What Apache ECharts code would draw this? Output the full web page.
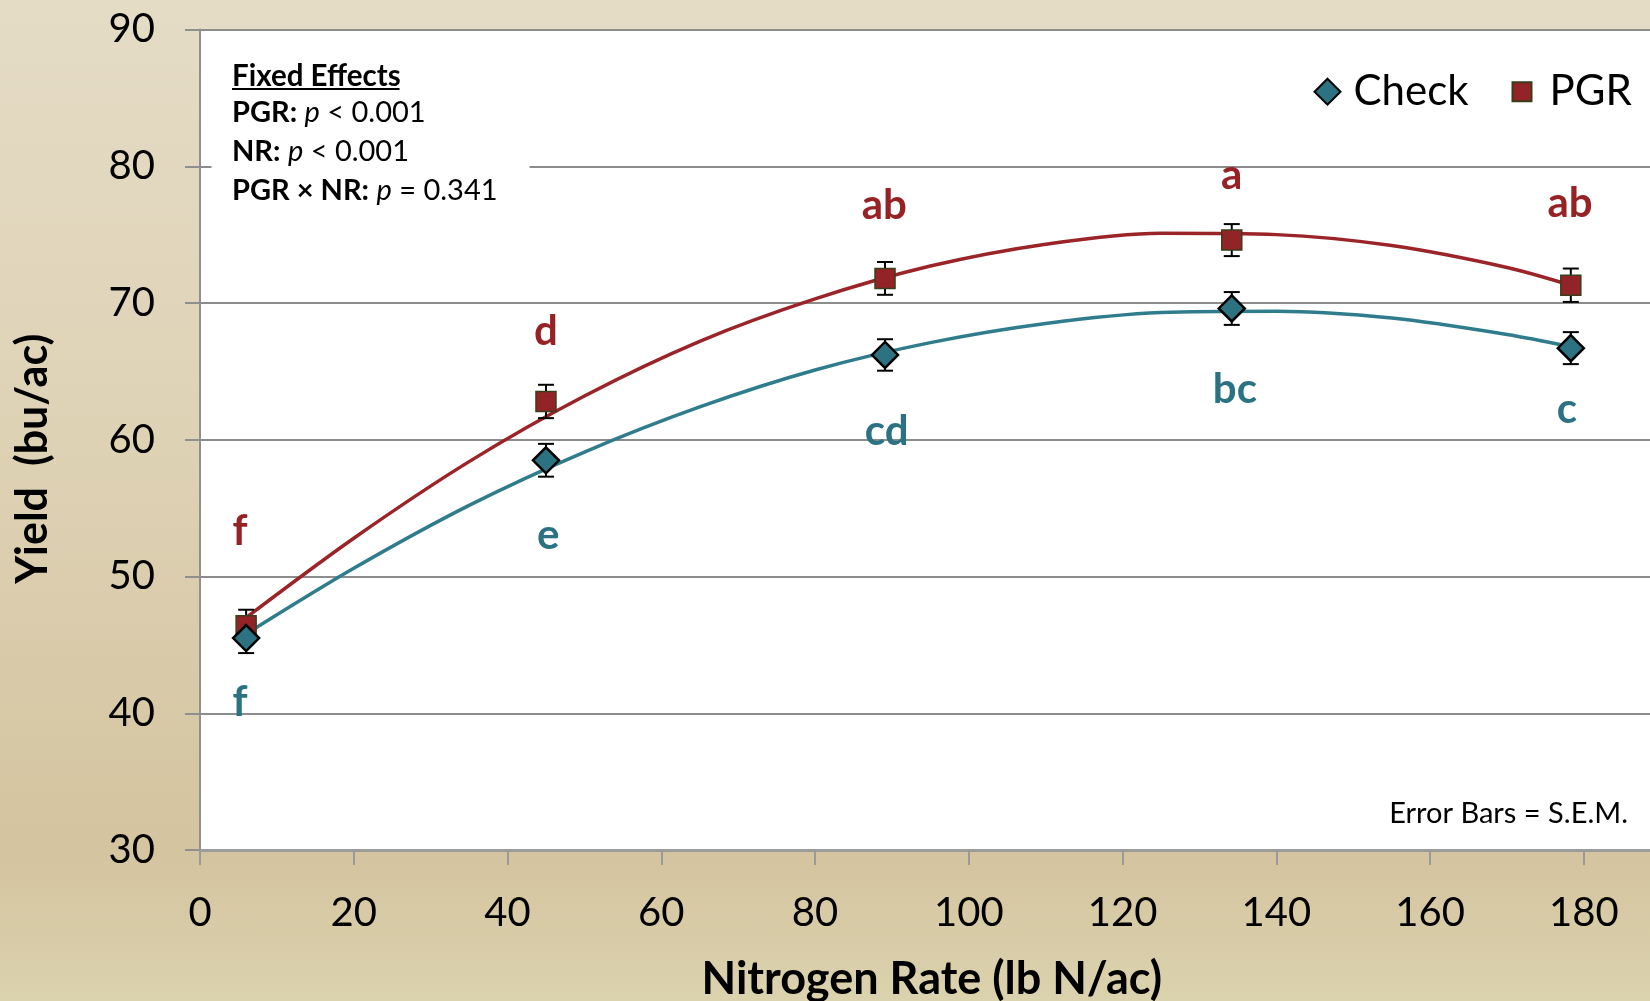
<!DOCTYPE html>
<html>
<head>
<meta charset="utf-8">
<script src="https://cdn.jsdelivr.net/npm/echarts@6/dist/echarts.min.js"></script>
<style>
html,body{margin:0;padding:0;width:1650px;height:1001px;overflow:hidden;
background:linear-gradient(to bottom,#e5dcc6 0%,#ded2b5 45%,#d4c49f 85%,#dbd2ae 100%);}
#chart{width:1650px;height:1001px;}
</style>
</head>
<body>
<div id="chart"></div>
<script>
// ---- data ----
const nRate = [6.0, 45.0, 89.1, 134.2, 178.3];          // lb N/ac
const checkYield = [45.5, 58.5, 66.2, 69.6, 66.7];       // bu/ac
const pgrYield   = [46.4, 62.8, 71.8, 74.6, 71.3];
const checkSEM = [1.1, 1.2, 1.15, 1.2, 1.17];
const pgrSEM   = [1.17, 1.22, 1.2, 1.17, 1.22];
const checkLetters = ['f', 'e', 'cd', 'bc', 'c'];
const pgrLetters   = ['f', 'd', 'ab', 'a', 'ab'];
const checkLetterX = [5.2, 45.3, 89.3, 134.6, 177.8];
const checkLetterY = [40.8, 53.0, 60.6, 63.7, 62.2];
const pgrLetterX   = [5.2, 45.0, 89.0, 134.2, 178.2];
const pgrLetterY   = [53.3, 67.9, 77.1, 79.3, 77.3];
// fitted trend curves
const checkCurveX = [6.0, 20, 35, 50, 65, 80, 95, 110, 125, 140, 155, 170, 178.3];
const checkCurveY = [45.8, 50.6, 55.2, 59.1, 62.4, 65.1, 67.1, 68.5, 69.3, 69.4, 68.9, 67.7, 66.8];
const pgrCurveX = [6.0, 20, 35, 50, 65, 80, 95, 110, 125, 140, 155, 170, 178.3];
const pgrCurveY = [47.0, 52.8, 58.4, 63.2, 67.2, 70.3, 72.7, 74.3, 75.1, 75.0, 74.2, 72.6, 71.3];
const xTicks = [0, 20, 40, 60, 80, 100, 120, 140, 160, 180];
const yTicks = [30, 40, 50, 60, 70, 80, 90];

const RED = '#9a2428', RED_FILL = '#922326', RED_TXT = '#962226';
const TEAL = '#2f7d8c', TEAL_FILL = '#2c7281', TEAL_TXT = '#2b7283';
const FONT = 'Lato';

const chart = echarts.init(document.getElementById('chart'));

function errSeries(name, ys, es) {
  return {
    type: 'custom', name: name, z: 3,
    data: nRate.map((x, i) => [x, ys[i], es[i]]),
    encode: {x: 0, y: 1},
    silent: true,
    renderItem: function (params, api) {
      const x = api.value(0), y = api.value(1), e = api.value(2);
      const t = api.coord([x, y + e]), b = api.coord([x, y - e]);
      const w = 8;
      const st = {stroke: '#000', lineWidth: 2};
      return {type: 'group', children: [
        {type: 'line', shape: {x1: t[0], y1: t[1], x2: b[0], y2: b[1]}, style: st},
        {type: 'line', shape: {x1: t[0] - w, y1: t[1], x2: t[0] + w, y2: t[1]}, style: st},
        {type: 'line', shape: {x1: b[0] - w, y1: b[1], x2: b[0] + w, y2: b[1]}, style: st}
      ]};
    }
  };
}
function letterSeries(letters, xs, ys, color) {
  return {
    type: 'scatter', z: 6, silent: true, symbolSize: 1,
    itemStyle: {color: 'rgba(0,0,0,0)', opacity: 1},
    data: xs.map((x, i) => [x, ys[i]]),
    label: {show: true, position: 'inside', formatter: p => letters[p.dataIndex], opacity: 1,
      color: color, fontFamily: FONT, fontWeight: 'bold', fontSize: 42, lineHeight: 42}
  };
}

const legendText = {fontFamily: FONT, fontSize: 42, lineHeight: 42, color: '#000'};
const option = {
  animation: false,
  backgroundColor: 'transparent',
  grid: {left: 200, right: 0, top: 29.5, bottom: 151, show: true, backgroundColor: '#fff', borderWidth: 0,
         containLabel: false, outerBoundsMode: 'none'},
  legend: [
    {data: ['Check'], left: 1313.5, top: 70.7, padding: 0, itemWidth: 26, itemHeight: 26, selectedMode: false,
     textStyle: Object.assign({padding: [0, 0, 0, 8]}, legendText)},
    {data: ['PGR'], left: 1511.5, top: 70.7, padding: 0, itemWidth: 19, itemHeight: 19, selectedMode: false,
     textStyle: Object.assign({padding: [0, 0, 0, 13]}, legendText)}
  ],
  xAxis: {
    type: 'value', min: 0, max: 188.6, interval: 20,
    axisLine: {show: true, lineStyle: {color: '#9c9c9c', width: 3}},
    axisTick: {show: true, length: 15, lineStyle: {color: '#9a9a9a', width: 2}, customValues: xTicks},
    axisLabel: {fontFamily: FONT, fontSize: 40, lineHeight: 40, color: '#000', margin: 43, customValues: xTicks},
    splitLine: {show: false}
  },
  yAxis: {
    type: 'value', min: 30, max: 90, interval: 10,
    axisLine: {show: true, lineStyle: {color: '#8f8f8f', width: 2}},
    axisTick: {show: true, length: 15, lineStyle: {color: '#8f8f8f', width: 2}},
    axisLabel: {fontFamily: FONT, fontSize: 40, lineHeight: 40, color: '#000', margin: 45, customValues: yTicks},
    splitLine: {show: true, lineStyle: {color: '#8c8c8c', width: 2}}
  },
  series: [
    {type: 'line', name: 'Check fit', z: 2, silent: true, showSymbol: false, smooth: 0.3,
     data: checkCurveX.map((x, i) => [x, checkCurveY[i]]), lineStyle: {color: TEAL, width: 3.5}},
    {type: 'line', name: 'PGR fit', z: 2, silent: true, showSymbol: false, smooth: 0.3,
     data: pgrCurveX.map((x, i) => [x, pgrCurveY[i]]), lineStyle: {color: RED, width: 3.5}},
    errSeries('Check SEM', checkYield, checkSEM),
    errSeries('PGR SEM', pgrYield, pgrSEM),
    {type: 'scatter', name: 'PGR', z: 4, symbol: 'rect', symbolSize: 20,
     data: nRate.map((x, i) => [x, pgrYield[i]]),
     itemStyle: {color: RED_FILL, borderColor: '#3b3d1b', borderWidth: 1.5, opacity: 1}},
    {type: 'scatter', name: 'Check', z: 5, symbol: 'diamond', symbolSize: 26,
     data: nRate.map((x, i) => [x, checkYield[i]]),
     itemStyle: {color: TEAL_FILL, borderColor: '#000', borderWidth: 2.5, opacity: 1}},
    letterSeries(pgrLetters, pgrLetterX, pgrLetterY, RED_TXT),
    letterSeries(checkLetters, checkLetterX, checkLetterY, TEAL_TXT)
  ],
  graphic: [
    {type: 'text', z: 60, x: 33, y: 458.8, rotation: Math.PI / 2,
     style: {text: 'Yield  (bu/ac)', fontFamily: FONT, fontWeight: 'bold', fontSize: 43, fill: '#000', align: 'center', verticalAlign: 'middle'}},
    {type: 'text', z: 60, x: 931.8, y: 979,
     style: {text: 'Nitrogen Rate (lb N/ac)', fontFamily: FONT, fontWeight: 'bold', fontSize: 45, fill: '#000', align: 'center', verticalAlign: 'middle'}},
    {type: 'rect', z: 50, shape: {x: 211.5, y: 45, width: 318, height: 168}, style: {fill: '#fff'}},
    {type: 'text', z: 51, x: 232, y: 76.5, style: {text: 'Fixed Effects', fontFamily: FONT, fontWeight: 'bold', fontSize: 29.5, fill: '#000', verticalAlign: 'middle'}},
    {type: 'line', z: 51, shape: {x1: 232, y1: 89, x2: 399.5, y2: 89}, style: {stroke: '#000', lineWidth: 2}},
    {type: 'text', z: 51, x: 232, y: 113, style: {text: '{b|PGR:} {i|p} < 0.001', fontFamily: FONT, fontSize: 29, fill: '#000', verticalAlign: 'middle',
      rich: {b: {fontFamily: FONT, fontWeight: 'bold', fontSize: 29}, i: {fontFamily: FONT, fontStyle: 'italic', fontSize: 29}}}},
    {type: 'text', z: 51, x: 232, y: 152, style: {text: '{b|NR:} {i|p} < 0.001', fontFamily: FONT, fontSize: 29, fill: '#000', verticalAlign: 'middle',
      rich: {b: {fontFamily: FONT, fontWeight: 'bold', fontSize: 29}, i: {fontFamily: FONT, fontStyle: 'italic', fontSize: 29}}}},
    {type: 'text', z: 51, x: 232, y: 191, style: {text: '{b|PGR × NR:} {i|p} = 0.341', fontFamily: FONT, fontSize: 29, fill: '#000', verticalAlign: 'middle',
      rich: {b: {fontFamily: FONT, fontWeight: 'bold', fontSize: 29}, i: {fontFamily: FONT, fontStyle: 'italic', fontSize: 29}}}},
    {type: 'text', z: 51, x: 1628, y: 814, style: {text: 'Error Bars = S.E.M.', fontFamily: FONT, fontSize: 29, fill: '#000', align: 'right', verticalAlign: 'middle'}}
  ]
};
chart.setOption(option);
</script>
</body>
</html>
